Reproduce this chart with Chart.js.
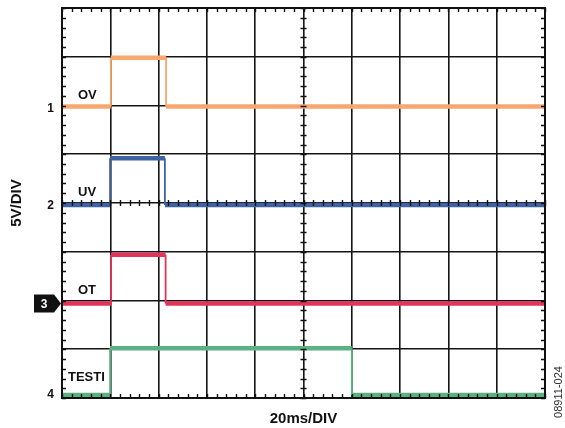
<!DOCTYPE html>
<html>
<head>
<meta charset="utf-8">
<script src="https://cdn.jsdelivr.net/npm/chart.js@4.4.0/dist/chart.umd.min.js"></script>
<style>
  html, body { margin: 0; padding: 0; background: #fff; }
  #wrap { width: 565px; height: 428px; }
</style>
</head>
<body>
<div id="wrap"><canvas id="scope" width="565" height="428"></canvas></div>
<script>
// time in ms, level in volts relative to each channel's ground marker
const ovTime = [0, 20.2, 20.2, 43.1, 43.1, 200];
const ovLevel = [-0.1, -0.1, 4.9, 4.9, -0.1, -0.1];
const uvTime = [0, 19.9, 19.9, 42.6, 42.6, 200];
const uvLevel = [-0.2, -0.2, 4.6, 4.6, -0.2, -0.2];
const otTime = [0, 20.3, 20.3, 42.9, 42.9, 200];
const otLevel = [-0.3, -0.3, 4.7, 4.7, -0.3, -0.3];
const testiTime = [0, 19.9, 19.9, 120, 120, 200];
const testiLevel = [0.3, 0.3, 5.1, 5.1, 0.3, 0.3];

const channelNames = ['OV', 'UV', 'OT', 'TESTI'];
const channelMarks = ['1', '2', '3', '4'];
const channelGround = [30, 20, 10, 0]; // volts on the 8 div screen (5V/div)
const channelColors = ['#f9a66f', '#3f62a2', '#e2345a', '#5cb182'];

const timeDiv = 20;  // ms per division
const voltDiv = 5;   // V per division

const FONT = '"Liberation Sans", Arial, Helvetica, sans-serif';

function toPoints(times, levels, ground) {
  return times.map((t, i) => ({ x: t, y: levels[i] + ground }));
}

const traces = [
  [ovTime, ovLevel],
  [uvTime, uvLevel],
  [otTime, otLevel],
  [testiTime, testiLevel]
];

/*--------------------- scope decorations ---------------------*/
const scopeDecor = {
  id: 'scopeDecor',
  afterDatasetsDraw(chart) {
    const { ctx, chartArea: a, scales: { x, y } } = chart;
    ctx.save();

    // outer frame
    ctx.strokeStyle = '#111';
    ctx.lineWidth = 2;
    ctx.strokeRect(a.left, a.top, a.right - a.left, a.bottom - a.top);

    // minor ticks (5 per division) on edges and centre lines
    ctx.lineWidth = 1.4;
    ctx.beginPath();
    const xMid = y.getPixelForValue(20);
    for (let t = 0; t <= 200; t += timeDiv / 5) {
      const px = Math.round(x.getPixelForValue(t)) + 0.5;
      ctx.moveTo(px, a.top); ctx.lineTo(px, a.top + 4);
      ctx.moveTo(px, a.bottom); ctx.lineTo(px, a.bottom - 4);
      ctx.moveTo(px, xMid - 3); ctx.lineTo(px, xMid + 3);
    }
    const yMid = x.getPixelForValue(100);
    for (let v = 0; v <= 40; v += voltDiv / 5) {
      const py = Math.round(y.getPixelForValue(v)) + 0.5;
      ctx.moveTo(a.left, py); ctx.lineTo(a.left + 4, py);
      ctx.moveTo(a.right, py); ctx.lineTo(a.right - 4, py);
      ctx.moveTo(yMid - 3, py); ctx.lineTo(yMid + 3, py);
    }
    ctx.stroke();

    // trace names and channel markers
    ctx.fillStyle = '#111';
    ctx.font = 'bold 13px ' + FONT;
    ctx.textBaseline = 'alphabetic';
    ctx.textAlign = 'left';
    channelNames.forEach((name, i) => {
      const g = y.getPixelForValue(channelGround[i]);
      if (name === 'TESTI') ctx.fillText(name, a.left + 6, g - 17);
      else ctx.fillText(name, a.left + 16, g - 7);
    });

    ctx.font = 'bold 12px ' + FONT;
    ctx.textBaseline = 'middle';
    channelMarks.forEach((m, i) => {
      const g = y.getPixelForValue(channelGround[i]);
      if (m === '3') {
        const cy = g + 3;
        ctx.fillStyle = '#111';
        ctx.beginPath();
        ctx.moveTo(34, cy - 9);
        ctx.lineTo(54, cy - 9);
        ctx.lineTo(61, cy);
        ctx.lineTo(54, cy + 9);
        ctx.lineTo(34, cy + 9);
        ctx.closePath();
        ctx.fill();
        ctx.fillStyle = '#fff';
        ctx.textAlign = 'center';
        ctx.fillText(m, 44, cy + 1);
      } else {
        ctx.fillStyle = '#111';
        ctx.textAlign = 'right';
        ctx.fillText(m, 54, g + (i === 3 ? -3 : 3));
      }
    });

    // axis captions
    ctx.fillStyle = '#111';
    ctx.font = 'bold 15px ' + FONT;
    ctx.textAlign = 'center';
    ctx.textBaseline = 'alphabetic';
    ctx.fillText('20ms/DIV', (a.left + a.right) / 2, 423);

    ctx.save();
    ctx.translate(17, (a.top + a.bottom) / 2);
    ctx.rotate(-Math.PI / 2);
    ctx.textBaseline = 'middle';
    ctx.fillText('5V/DIV', 0, 0);
    ctx.restore();

    ctx.save();
    ctx.translate(559, 392);
    ctx.rotate(-Math.PI / 2);
    ctx.font = '11px ' + FONT;
    ctx.fillStyle = '#333';
    ctx.textBaseline = 'middle';
    ctx.fillText('08911-024', 0, 0);
    ctx.restore();

    ctx.restore();
  }
};

/*--------------------- chart ---------------------*/
const scopeChart = new Chart(document.getElementById('scope').getContext('2d'), {
  type: 'line',
  data: {
    datasets: traces.map(([t, lv], i) => ({
      label: channelNames[i],
      data: toPoints(t, lv, channelGround[i]),
      borderColor: channelColors[i],
      borderWidth: 4.5,
      pointRadius: 0,
      fill: false,
      tension: 0,
      segment: {
        borderWidth: c => (c.p0.parsed.x === c.p1.parsed.x ? 1.8 : 4.5)
      }
    }))
  },
  options: {
    responsive: false,
    animation: false,
    events: [],
    layout: { padding: { left: 62, top: 8, right: 20, bottom: 30 } },
    plugins: {
      legend: { display: false },
      tooltip: { enabled: false }
    },
    scales: {
      x: {
        type: 'linear',
        min: 0,
        max: 200,
        ticks: { stepSize: timeDiv, display: false },
        grid: { color: '#141414', lineWidth: 1.6, drawTicks: false },
        border: { display: false }
      },
      y: {
        type: 'linear',
        min: 0,
        max: 40,
        ticks: { stepSize: voltDiv, display: false },
        grid: { color: '#141414', lineWidth: 1.6, drawTicks: false },
        border: { display: false }
      }
    }
  },
  plugins: [scopeDecor]
});
</script>
</body>
</html>
